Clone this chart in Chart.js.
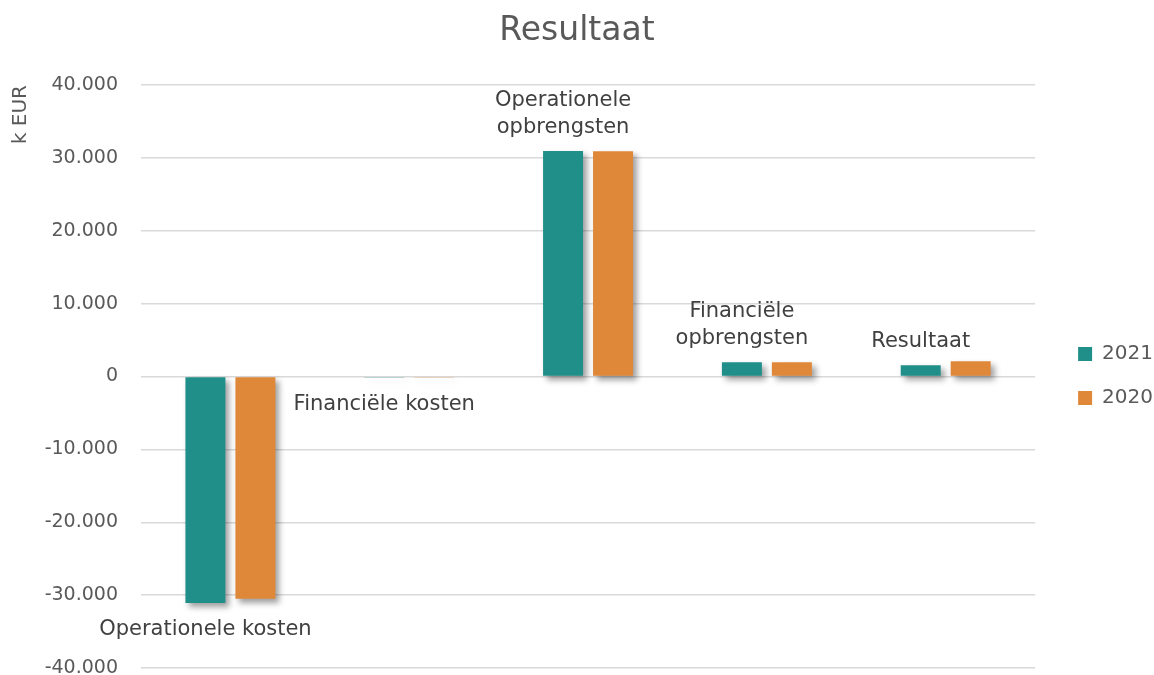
<!DOCTYPE html>
<html>
<head>
<meta charset="utf-8">
<script src="https://cdn.jsdelivr.net/npm/chart.js@4.4.1/dist/chart.umd.min.js"></script>
<style>
  html, body { margin: 0; padding: 0; background: #fff; }
  #wrap { width: 1154px; height: 675px; }
</style>
</head>
<body>
<div id="wrap"><canvas id="c" width="1154" height="675"></canvas></div>
<script>
// categories + their wrapped data-label lines (shown on the 2021 bars)
var categories = ['Operationele kosten', 'Financiële kosten', 'Operationele opbrengsten', 'Financiële opbrengsten', 'Resultaat'];
var labelLines = [['Operationele kosten'], ['Financiële kosten'], ['Operationele', 'opbrengsten'], ['Financiële', 'opbrengsten'], ['Resultaat']];
var seriesNames = ['2021', '2020'];
var values2021 = [-31070, -150, 30930, 1950, 1540];
var values2020 = [-30500, -150, 30900, 1950, 2080];
var yTicks = [-40000, -30000, -20000, -10000, 0, 10000, 20000, 30000, 40000];

var TEAL = '#208f8a', ORANGE = '#e0883a';
var FONT = "'DejaVu Sans', sans-serif";

function fmt(v) {
    var s = Math.abs(v).toString().replace(/\B(?=(\d{3})+(?!\d))/g, '.');
    return (v < 0 ? '-' : '') + s;
}

// soft drop shadow under the bars
var barShadow = {
    id: 'barShadow',
    beforeDatasetsDraw: function (chart) {
        var c = chart.ctx;
        c.save();
        c.shadowColor = 'rgba(0,0,0,0.38)';
        c.shadowBlur = 6;
        c.shadowOffsetX = 4;
        c.shadowOffsetY = 4;
    },
    afterDatasetsDraw: function (chart) { chart.ctx.restore(); }
};

// category names as labels outside the end of the 2021 bars
var catLabels = {
    id: 'catLabels',
    afterDraw: function (chart) {
        var c = chart.ctx, meta = chart.getDatasetMeta(0);
        c.save();
        c.font = '21px ' + FONT;
        c.fillStyle = '#404040';
        c.textAlign = 'center';
        c.textBaseline = 'middle';
        var lh = 27;
        meta.data.forEach(function (bar, i) {
            var lines = labelLines[i];
            if (values2021[i] >= 0) {
                var y0 = bar.y - 24 - (lines.length - 1) * lh;
                lines.forEach(function (t, k) { c.fillText(t, bar.x, y0 + k * lh); });
            } else {
                lines.forEach(function (t, k) { c.fillText(t, bar.x, bar.y + 27 + k * lh); });
            }
        });
        c.restore();
    }
};

// legend: a bit wider box (narrower plot), items pushed right and down
var legendPos = {
    id: 'legendPos',
    beforeLayout: function (chart) {
        var lg = chart.legend;
        if (lg && !lg._wrapped) {
            var fit = lg.fit;
            lg.fit = function () { fit.call(this); this.width += 10; };
            lg._wrapped = true;
        }
    },
    afterLayout: function (chart) {
        var lg = chart.legend;
        if (!lg) return;
        lg.left += 19;
        lg.top += 42;
        lg.bottom += 42;
    }
};

new Chart(document.getElementById('c'), {
    type: 'bar',
    data: {
        labels: categories,
        datasets: [
            { label: seriesNames[0], data: values2021, backgroundColor: TEAL },
            { label: seriesNames[1], data: values2020, backgroundColor: ORANGE }
        ]
    },
    plugins: [barShadow, catLabels, legendPos],
    options: {
        responsive: false,
        animation: false,
        layout: { padding: { top: 0, bottom: 7, left: 0, right: 0 } },
        datasets: { bar: { categoryPercentage: 0.559, barPercentage: 0.8 } },
        plugins: {
            title: {
                display: true, text: 'Resultaat', color: '#595959',
                font: { family: FONT, size: 33, weight: 'normal' },
                padding: { top: 12, bottom: 33.4 }
            },
            legend: {
                position: 'right',
                labels: {
                    boxWidth: 14, boxHeight: 14, padding: 24, color: '#595959',
                    font: { family: FONT, size: 20 }
                }
            },
            tooltip: { enabled: false }
        },
        scales: {
            x: { display: false },
            y: {
                min: yTicks[0], max: yTicks[yTicks.length - 1],
                afterBuildTicks: function (s) { s.ticks = yTicks.map(function (v) { return { value: v }; }); },
                afterFit: function (s) { s.width = 141; s.paddingTop = 0; s.paddingBottom = 0; },
                border: { display: false },
                grid: { color: '#d9d9d9', lineWidth: 1.5, drawTicks: false },
                ticks: {
                    padding: 23, color: '#595959',
                    font: { family: FONT, size: 19 },
                    callback: function (v) { return fmt(v); }
                },
                title: {
                    display: true, text: 'k EUR', align: 'end', color: '#595959',
                    font: { family: FONT, size: 20 },
                    padding: { top: 9, bottom: 0 }
                }
            }
        }
    }
});
</script>
</body>
</html>
